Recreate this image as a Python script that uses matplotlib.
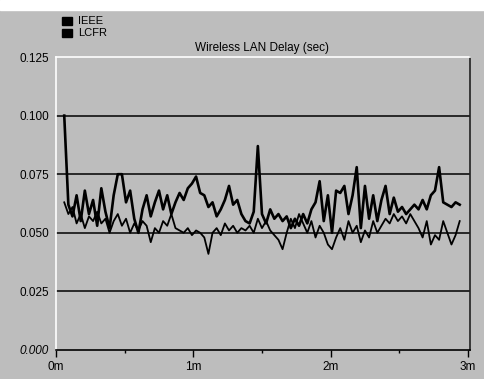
import matplotlib
matplotlib.use('Agg')
import matplotlib.pyplot as plt
import matplotlib.patches as mpatches
import numpy as np

plt.rcParams['font.family'] = ['Liberation Sans', 'DejaVu Sans']

# sample times in minutes (simulation samples every 0.03 min)
t = 0.06 + 0.03 * np.arange(97)

ieee = [0.100, 0.062, 0.057, 0.066, 0.055, 0.068, 0.058, 0.064, 0.053, 0.069,
        0.059, 0.052, 0.066, 0.075, 0.075, 0.063, 0.068, 0.056, 0.050, 0.060,
        0.066, 0.057, 0.063, 0.068, 0.060, 0.066, 0.058, 0.063, 0.067, 0.064,
        0.069, 0.071, 0.074, 0.067, 0.066, 0.061, 0.063, 0.057, 0.060, 0.064,
        0.070, 0.062, 0.064, 0.058, 0.055, 0.054, 0.059, 0.087, 0.058, 0.054,
        0.060, 0.056, 0.058, 0.055, 0.057, 0.052, 0.056, 0.053, 0.058, 0.054,
        0.060, 0.063, 0.072, 0.055, 0.066, 0.050, 0.068, 0.067, 0.070, 0.058,
        0.066, 0.078, 0.052, 0.070, 0.056, 0.066, 0.055, 0.064, 0.070, 0.058,
        0.065, 0.059, 0.061, 0.058, 0.060, 0.062, 0.060, 0.064, 0.060, 0.066,
        0.068, 0.078, 0.063, 0.062, 0.061, 0.063, 0.062]

lcfr = [0.063, 0.058, 0.061, 0.054, 0.058, 0.052, 0.057, 0.055, 0.059, 0.054,
        0.056, 0.050, 0.055, 0.058, 0.053, 0.056, 0.050, 0.054, 0.051, 0.055,
        0.053, 0.046, 0.052, 0.050, 0.055, 0.053, 0.058, 0.052, 0.051, 0.050,
        0.052, 0.049, 0.051, 0.050, 0.048, 0.041, 0.050, 0.052, 0.049, 0.054,
        0.051, 0.053, 0.050, 0.052, 0.051, 0.053, 0.050, 0.056, 0.052, 0.055,
        0.051, 0.049, 0.047, 0.043, 0.050, 0.056, 0.052, 0.058, 0.054, 0.050,
        0.055, 0.048, 0.053, 0.050, 0.045, 0.043, 0.048, 0.052, 0.047, 0.055,
        0.050, 0.053, 0.046, 0.051, 0.048, 0.055, 0.050, 0.053, 0.056, 0.054,
        0.058, 0.055, 0.057, 0.054, 0.058, 0.055, 0.052, 0.048, 0.055, 0.045,
        0.049, 0.047, 0.055, 0.050, 0.045, 0.049, 0.055]

yticks = [0.000, 0.025, 0.050, 0.075, 0.100, 0.125]
xticks = [0, 1, 2, 3]
xlabels = ['0m', '1m', '2m', '3m']

bg = '#bdbdbd'
W, H = 485, 379
fig = plt.figure(figsize=(W / 100, H / 100), dpi=100, facecolor=bg)
# white strip along the top of the scan
fig.patches.append(mpatches.Rectangle((0, 1 - 10 / H), 1, 10 / H, transform=fig.transFigure,
                                      color='white', zorder=0))

ax = fig.add_axes([56 / W, (H - 350) / H, (470 - 56) / W, (350 - 57) / H])
ax.set_facecolor(bg)

for y in yticks[1:-1]:
    ax.axhline(y, color='black', lw=1.1, zorder=1)

ax.plot(t, lcfr, color='black', lw=1.3, zorder=3)
ax.plot(t, ieee, color='black', lw=1.9, zorder=3)

ax.set_xlim(0, 3.015)
ax.set_ylim(0, 0.125)
ax.set_xticks(xticks)
ax.set_xticklabels(xlabels, fontsize=8.5)
ax.set_xticks([0.5, 1.5, 2.5], minor=True)
ax.tick_params(axis='x', which='major', length=5, width=1, direction='out', pad=3)
ax.tick_params(axis='x', which='minor', length=2.5, width=1, direction='out')
ax.set_yticks(yticks)
ax.set_yticklabels(['%.3f' % v for v in yticks], fontsize=8.5)
ax.get_yticklabels()[0].set_fontstyle('italic')
ax.tick_params(axis='y', length=0, pad=5)

ax.spines['left'].set_color('white')
ax.spines['top'].set_color('white')
ax.spines['bottom'].set_color('black')
ax.spines['right'].set_color('#222222')
for s in ax.spines.values():
    s.set_linewidth(1.2)

fig.text(262 / W, 1 - 48 / H, 'Wireless LAN Delay (sec)', fontsize=8.5, ha='center', va='center')

# legend: black squares with labels
for i, name in enumerate(['IEEE', 'LCFR']):
    yc = 1 - (21 + 12 * i) / H
    fig.patches.append(mpatches.Rectangle((62 / W, yc - 4 / H), 10 / W, 8 / H,
                                          transform=fig.transFigure, color='black'))
    fig.text(78 / W, yc, name, fontsize=8, ha='left', va='center')

fig.savefig('out.png', dpi=100, facecolor=bg)
